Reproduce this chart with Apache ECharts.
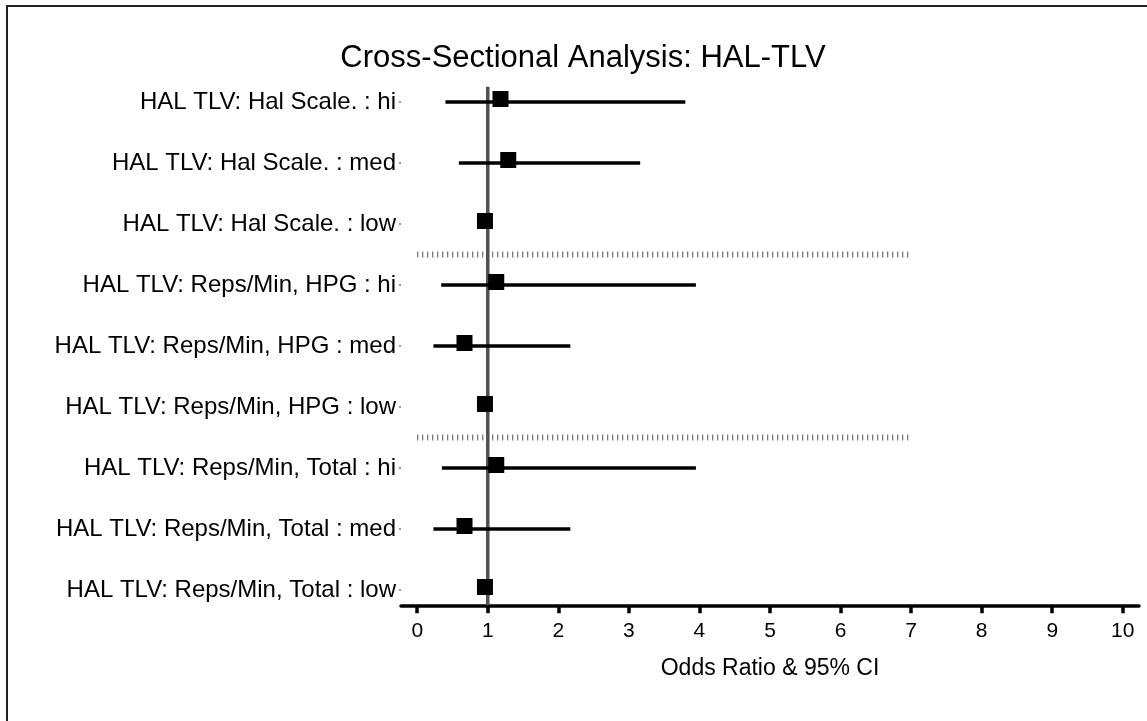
<!DOCTYPE html>
<html>
<head>
<meta charset="utf-8">
<script src="https://cdn.jsdelivr.net/npm/echarts@6/dist/echarts.min.js"></script>
<style>
html,body{margin:0;padding:0;background:#fff;}
#chart{width:1147px;height:721px;}
</style>
</head>
<body>
<div id="chart"></div>
<script>
// ---- data ----
var titleText = 'Cross-Sectional Analysis: HAL-TLV';
var axisName = 'Odds Ratio & 95% CI';
var rowLabels = [
  'HAL TLV: Hal Scale. : hi',
  'HAL TLV: Hal Scale. : med',
  'HAL TLV: Hal Scale. : low',
  'HAL TLV: Reps/Min, HPG : hi',
  'HAL TLV: Reps/Min, HPG : med',
  'HAL TLV: Reps/Min, HPG : low',
  'HAL TLV: Reps/Min, Total : hi',
  'HAL TLV: Reps/Min, Total : med',
  'HAL TLV: Reps/Min, Total : low'
];
var oddsRatio = [1.18, 1.29, 0.96, 1.12, 0.67, 0.96, 1.12, 0.67, 0.96];
var ciLow     = [0.40, 0.59, null, 0.34, 0.23, null, 0.35, 0.23, null];
var ciHigh    = [3.80, 3.16, null, 3.95, 2.17, null, 3.95, 2.17, null];
var xTicks = [0, 1, 2, 3, 4, 5, 6, 7, 8, 9, 10];
var refValue = 1;
var separatorRows = [3.5, 6.5];
var separatorSpan = [0, 7];

var rowPos = rowLabels.map(function (_, i) { return i + 1; });

var FONT = '"Liberation Sans", Arial, Helvetica, sans-serif';
var chart = echarts.init(document.getElementById('chart'), null, {renderer: 'canvas'});

var forestData = oddsRatio.map(function (v, i) {
  return [v, rowPos[i], ciLow[i] == null ? v : ciLow[i], ciHigh[i] == null ? v : ciHigh[i]];
});

var series = [];
// reference line at OR = 1
series.push({
  type: 'line',
  data: [[refValue, 0.75], [refValue, 9.25]],
  symbol: 'none',
  lineStyle: {color: '#505050', width: 3.5},
  silent: true, z: 1
});
// group separators
separatorRows.forEach(function (y) {
  series.push({
    type: 'line',
    data: [[separatorSpan[0], y], [separatorSpan[1], y]],
    symbol: 'none',
    lineStyle: {color: '#555', width: 6, type: [1, 4], cap: 'butt'},
    silent: true, z: 1
  });
});
// CI bars and squares
series.push({
  type: 'custom',
  data: forestData,
  z: 3,
  renderItem: function (params, api) {
    var or = api.value(0), y = api.value(1), lo = api.value(2), hi = api.value(3);
    var p = api.coord([or, y]);
    var pl = api.coord([lo, y]);
    var ph = api.coord([hi, y]);
    var children = [];
    if (hi > lo) {
      children.push({
        type: 'line',
        shape: {x1: pl[0], y1: pl[1], x2: ph[0], y2: ph[1]},
        style: {stroke: '#000', lineWidth: 3.5}
      });
    }
    var s = 16;
    children.push({
      type: 'rect',
      shape: {x: p[0] - s / 2, y: p[1] - s / 2 - 3, width: s, height: s},
      style: {fill: '#000'}
    });
    return {type: 'group', children: children};
  }
});

chart.setOption({
  animation: false,
  backgroundColor: '#fff',
  grid: {left: 401, right: 8, top: 86.75, bottom: 115.75, containLabel: false},
  xAxis: {
    type: 'value',
    min: -0.23, max: 10.23,
    splitLine: {show: false},
    axisLine: {show: true, onZero: false, lineStyle: {color: '#000', width: 3.5}},
    axisTick: {show: true, customValues: xTicks, length: 8, lineStyle: {color: '#000', width: 3.5}},
    axisLabel: {customValues: xTicks, color: '#000', fontSize: 21, fontFamily: FONT, margin: 15},
    name: axisName,
    nameLocation: 'middle',
    nameGap: 52,
    nameTextStyle: {color: '#000', fontSize: 23, fontFamily: FONT}
  },
  yAxis: {
    type: 'value',
    inverse: true,
    min: 0.75, max: 9.25,
    splitLine: {show: false},
    axisLine: {show: false, onZero: false},
    axisTick: {show: true, customValues: rowPos, length: 2, lineStyle: {color: '#777', width: 1.5}},
    axisLabel: {
      customValues: rowPos, color: '#000', fontSize: 24, fontFamily: FONT, margin: 5,
      formatter: function (v) { return rowLabels[Math.round(v) - 1]; }
    }
  },
  graphic: [
    {
      type: 'rect', silent: true,
      shape: {x: 7, y: 6, width: 1200, height: 800},
      style: {fill: 'none', stroke: '#222', lineWidth: 2}
    },
    {
      type: 'text', silent: true, x: 583, y: 58,
      style: {text: titleText, fill: '#000', font: '31px ' + FONT,
              textAlign: 'center', textVerticalAlign: 'middle', align: 'center', verticalAlign: 'middle'}
    }
  ],
  series: series
});
</script>
</body>
</html>
